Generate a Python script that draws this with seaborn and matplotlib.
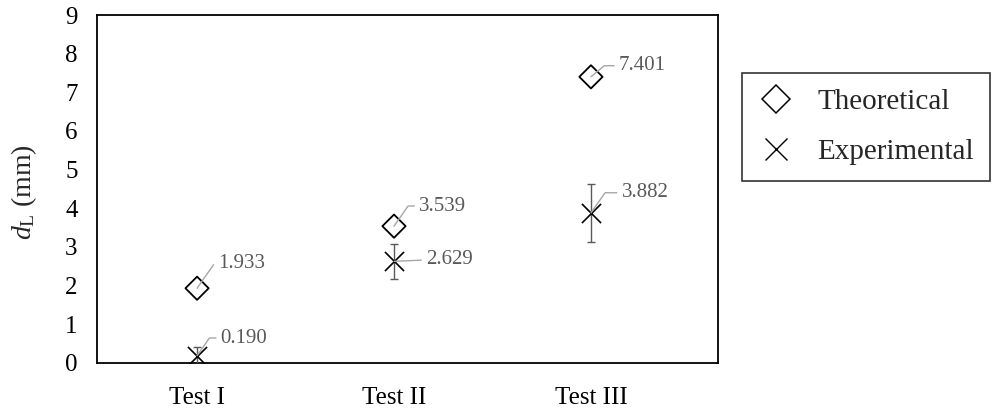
import matplotlib
matplotlib.use("Agg")
import matplotlib.pyplot as plt
import seaborn as sns
import pandas as pd
from matplotlib.lines import Line2D

categories = ["Test I", "Test II", "Test III"]
theoretical = [1.933, 3.539, 7.401]
experimental = [0.190, 2.629, 3.882]
exp_err = [0.22, 0.46, 0.75]
y_ticks = [0, 1, 2, 3, 4, 5, 6, 7, 8, 9]

sns.set_style("white")
plt.rcParams["font.family"] = ["Liberation Serif", "DejaVu Serif"]
plt.rcParams["mathtext.fontset"] = "custom"
plt.rcParams["mathtext.rm"] = "Liberation Serif"
plt.rcParams["mathtext.it"] = "Liberation Serif:italic"

df = pd.DataFrame({"cat": categories, "theo": theoretical, "exp": experimental, "err": exp_err})

fig = plt.figure(figsize=(9.95, 4.11), dpi=100)
ax = fig.add_axes([0.0975, 0.1168, 0.6241, 0.8467])

sns.scatterplot(data=df, x="cat", y="theo", marker="D", s=140, facecolor="none",
                edgecolor="black", linewidth=1.3, ax=ax, zorder=4)
ax.errorbar(range(len(categories)), df["exp"], yerr=df["err"], fmt="none",
            ecolor="#595959", elinewidth=1.0, capsize=2.6, capthick=1.0, zorder=3)
sns.scatterplot(data=df, x="cat", y="exp", marker="x", s=190, color="black",
                linewidth=1.2, ax=ax, zorder=5)

ax.set_xlim(-0.508, 2.645)
ax.set_ylim(0, 9)
ax.set_yticks(y_ticks)
ax.tick_params(axis="both", length=0, labelsize=18, colors="black")
ax.tick_params(axis="y", pad=14)
ax.tick_params(axis="x", pad=17)
ax.set_xlabel("")
ax.set_ylabel(r"$d_\mathrm{L}$ (mm)", fontsize=20)
ax.yaxis.set_label_coords(-0.093, 0.49)
for sp in ax.spines.values():
    sp.set_visible(True)
    sp.set_color("black")
    sp.set_linewidth(1.3)

# data labels with leader lines
label_offsets_theo = [(15, 17.5, 55), (18, 14.5, 55), (20, 8, 40)]
label_offsets_exp = [(17, 12.7, 55), (23, 1, None), (22, 14.5, 55)]

def annotate(i, val, off):
    dx, dy, ang = off
    if ang is None:
        cs = "arc3"
    else:
        cs = f"angle,angleA=0,angleB={ang},rad=0"
    ax.annotate(f"{val:.3f}", xy=(i, val), xytext=(dx, dy), textcoords="offset points",
                ha="left", va="center", fontsize=15, color="#595959",
                arrowprops=dict(arrowstyle="-", color="#a6a6a6", lw=1.0,
                                connectionstyle=cs, shrinkA=1, shrinkB=0,
                                relpos=(0, 0.5)), zorder=6)

for i, v in enumerate(theoretical):
    annotate(i, v, label_offsets_theo[i])
for i, v in enumerate(experimental):
    annotate(i, v, label_offsets_exp[i])

handles = [
    Line2D([], [], marker="D", linestyle="none", markerfacecolor="none",
           markeredgecolor="black", markersize=14.3, markeredgewidth=1.1),
    Line2D([], [], marker="x", linestyle="none", color="black",
           markersize=16, markeredgewidth=1.0),
]
leg = fig.legend(handles, ["Theoretical", "Experimental"], loc="upper left",
                 bbox_to_anchor=(742 / 995, 1 - 73 / 411), fontsize=21, frameon=True,
                 fancybox=False, edgecolor="black", handletextpad=0.8,
                 borderpad=0.55, borderaxespad=0, labelspacing=0.8, handlelength=1.24)
leg.get_frame().set_linewidth(1.2)

fig.savefig("out.png", dpi=100)
